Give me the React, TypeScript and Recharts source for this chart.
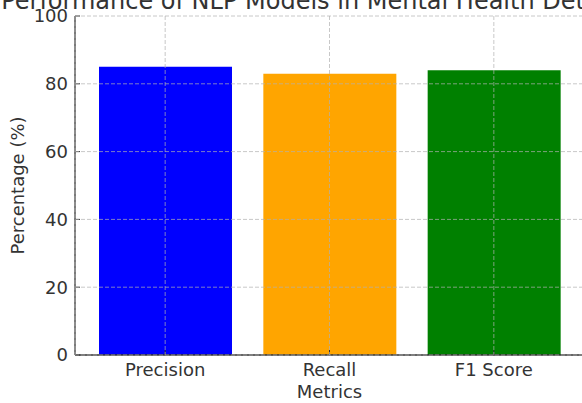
import { BarChart, Bar, XAxis, YAxis, CartesianGrid, Cell, Label } from 'recharts'

const metrics = ['Precision', 'Recall', 'F1 Score']
const percentages = [85, 83, 84]
const barColors = ['#0000ff', '#ffa500', '#008000']
const yTicks = [0, 20, 40, 60, 80, 100]

const data = metrics.map((m, i) => ({ metric: m, value: percentages[i] }))

const FONT = 'DejaVu Sans, sans-serif'
const TEXT = '#333333'
const FS = 18

export default function App() {
  return (
    <div style={{ position: 'absolute', left: 0, top: 0, width: 582, height: 403, overflow: 'hidden', background: '#fff', fontFamily: FONT }}>
      <div style={{
        position: 'absolute', left: 330, top: -11, transform: 'translateX(-50%)',
        whiteSpace: 'nowrap', fontSize: 24, color: TEXT, lineHeight: '24px',
      }}>
        Performance of NLP Models in Mental Health Detection
      </div>
      <BarChart
        width={590}
        height={403}
        data={data}
        margin={{ top: 16, right: 6, left: 0, bottom: 0 }}
        barSize={133}
      >
        <XAxis
          dataKey="metric"
          height={48}
          padding={{ left: 8, right: 8 }}
          tick={{ fontSize: FS, fill: TEXT, fontFamily: FONT }}
          tickSize={-5}
          tickMargin={13}
          tickLine={{ stroke: TEXT }}
          axisLine={{ stroke: TEXT, strokeWidth: 1.3 }}
        >
          <Label
            content={({ viewBox }: any) => (
              <text x={viewBox.x + viewBox.width / 2} y={398} textAnchor="middle"
                style={{ fontSize: FS, fill: TEXT, fontFamily: FONT }}>
                Metrics
              </text>
            )}
          />
        </XAxis>
        <YAxis
          width={75}
          domain={[0, 100]}
          ticks={yTicks}
          tick={{ fontSize: FS, fill: TEXT, fontFamily: FONT }}
          tickSize={-5}
          tickMargin={12}
          tickLine={{ stroke: TEXT }}
          axisLine={{ stroke: TEXT, strokeWidth: 1.3 }}
        >
          <Label
            content={({ viewBox }: any) => {
              const cy = viewBox.y + viewBox.height / 2
              return (
                <text x={23.5} y={cy} transform={`rotate(-90, 23.5, ${cy})`} textAnchor="middle"
                  style={{ fontSize: FS, fill: TEXT, fontFamily: FONT }}>
                  Percentage (%)
                </text>
              )
            }}
          />
        </YAxis>
        <Bar dataKey="value" isAnimationActive={false}>
          {data.map((d, i) => (
            <Cell key={d.metric} fill={barColors[i]} />
          ))}
        </Bar>
        <CartesianGrid stroke="#b0b0b0" strokeOpacity={0.7} strokeDasharray="4 2" zIndex={500} />
      </BarChart>
    </div>
  )
}
